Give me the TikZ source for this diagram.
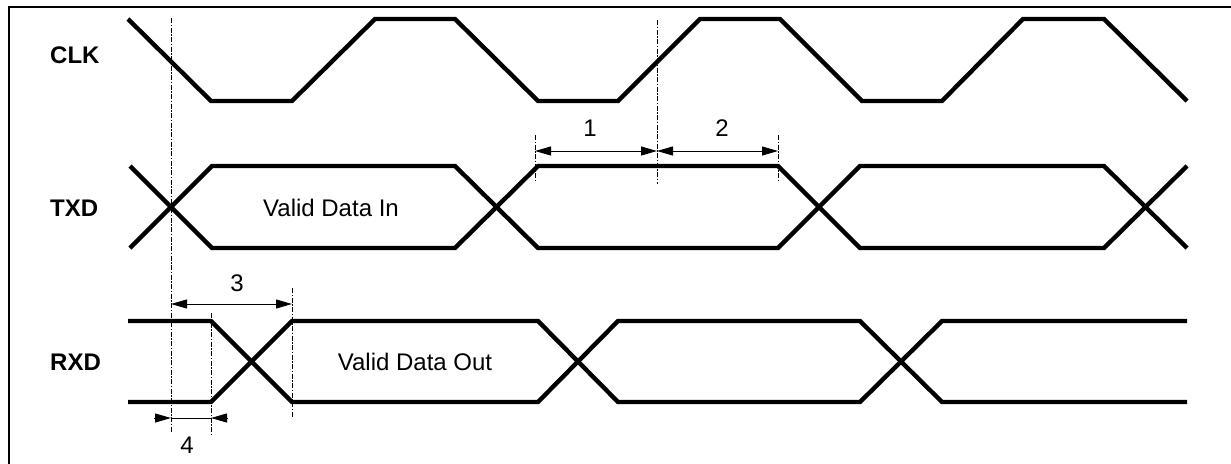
\documentclass[tikz,border=0pt]{standalone}
\usepackage{fontspec}
\setmainfont{Liberation Sans}
\usetikzlibrary{arrows.meta}
\begin{document}
\begin{tikzpicture}[x=1pt,y=-1pt,
  sig/.style={line width=4.4pt,line join=miter},
  guide/.style={line width=0.8pt,dash pattern=on 5pt off 1.5pt on 1.5pt off 1.5pt},
  dim/.style={line width=1pt,{Triangle[length=16pt,width=9pt]}-{Triangle[length=16pt,width=9pt]}},
  tipr/.style={line width=1pt,-{Triangle[length=16pt,width=9pt]}},
  lbl/.style={font=\fontsize{24}{28}\selectfont\bfseries,anchor=west,inner sep=0pt},
  txt/.style={font=\fontsize{24}{28}\selectfont,inner sep=0pt}]
\useasboundingbox (0,0) rectangle (1231,463);
\draw[line width=2.2pt] (9,7) rectangle (1240,475);

% labels
\node[lbl] (clk) at (50,55) {CLK};
\node[lbl] (txd) at (50,208) {TXD};
\node[lbl] (rxd) at (50,362) {RXD};

% CLK
\draw[sig] (128,19)--(211,101)--(292,101)--(375,19)--(455,19)--(538,101)--(618,101)--(700,19)--(780,19)--(862,101)--(942,101)--(1023,19)--(1104,19)--(1187,101);

% TXD
\draw[sig] (130,248)--(212,166)--(455,166)--(538,248)--(778,248)--(860,166)--(1104,166)--(1187,248);
\draw[sig] (130,166)--(212,248)--(455,248)--(538,166)--(778,166)--(860,248)--(1104,248)--(1187,166);
\node[txt] (vin) at (331,208) {Valid Data In};

% RXD
\draw[sig] (128,321)--(211,321)--(292,402)--(538,402)--(618,321)--(860,321)--(942,402)--(1187,402);
\draw[sig] (128,402)--(211,402)--(292,321)--(538,321)--(618,402)--(860,402)--(942,321)--(1187,321);
\node[txt] (vout) at (415,362) {Valid Data Out};

% guide lines
\coordinate (g1a) at (171,18);  \coordinate (g1b) at (171,433);
\coordinate (g2a) at (657,20);  \coordinate (g2b) at (657,184);
\coordinate (g3a) at (535,135); \coordinate (g3b) at (535,182);
\coordinate (g4a) at (778,135); \coordinate (g4b) at (778,182);
\coordinate (g5a) at (211,313); \coordinate (g5b) at (211,435);
\coordinate (g6a) at (292,288); \coordinate (g6b) at (292,417);
\draw[guide] (g1a)--(g1b);
\draw[guide] (g2a)--(g2b);
\draw[guide] (g3a)--(g3b);
\draw[guide] (g4a)--(g4b);
\draw[guide] (g5a)--(g5b);
\draw[guide] (g6a)--(g6b);

% dimensions 1 and 2
\coordinate (d1a) at (535,151); \coordinate (d1b) at (657,151); \coordinate (d2b) at (778,151);
\draw[dim] (d1a)--(d1b);
\draw[dim] (d1b)--(d2b);
\node[txt] (n1) at (590,128) {1};
\node[txt] (n2) at (722,128) {2};

% dimension 3
\coordinate (d3a) at (171,304); \coordinate (d3b) at (292,304);
\draw[dim] (d3a)--(d3b);
\node[txt] (n3) at (237,283) {3};

% dimension 4
\coordinate (d4o1) at (154,418); \coordinate (d4a) at (171,418);
\coordinate (d4b) at (211,418); \coordinate (d4o2) at (228,418);
\draw[tipr] (d4o1)--(d4a);
\draw[tipr] (d4o2)--(d4b);
\draw[line width=1pt] (d4a)--(d4b);
\node[txt] (n4) at (187,445) {4};
\end{tikzpicture}
\end{document}
